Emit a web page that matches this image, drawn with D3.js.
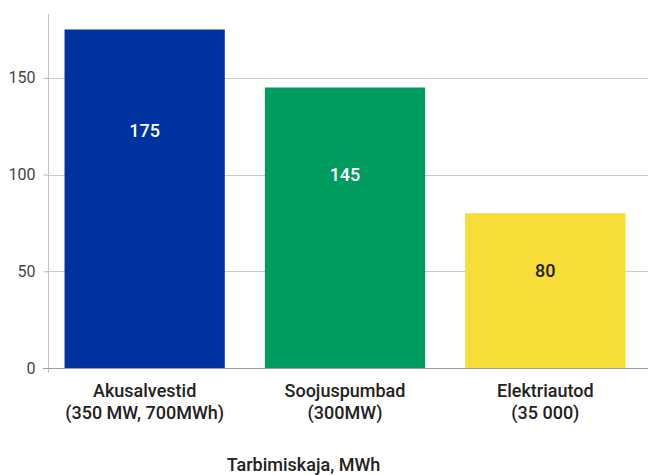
<!DOCTYPE html>
<html>
<head>
<meta charset="utf-8">
<script src="https://cdn.jsdelivr.net/npm/d3@7"></script>
<style>
  html, body { margin: 0; padding: 0; background: #fff; }
  svg { display: block; font-family: Roboto, "Noto Sans", sans-serif; }
</style>
</head>
<body>
<svg id="chart" width="648" height="475"></svg>
<script>
// Consumption capacity by flexibility source
const categories = ["Akusalvestid", "Soojuspumbad", "Elektriautod"];
const subLabels = ["(350 MW, 700MWh)", "(300MW)", "(35 000)"];
const values = [175, 145, 80];
const colors = ["#0033a0", "#009b5f", "#f7dd37"];
const labelColors = ["#ffffff", "#ffffff", "#222222"];
const yTicks = [0, 50, 100, 150];
const axisTitle = "Tarbimiskaja, MWh";

const svg = d3.select("#chart");
const W = 648;
const axisX = 48;

const y = d3.scaleLinear().domain([0, 183]).range([368, 14]);
const x = d3.scaleBand().domain(categories).range([44.5, 645.5]).paddingInner(0.2).paddingOuter(0.1);

// horizontal gridlines
svg.append("g").selectAll("line").data(yTicks.filter(t => t > 0)).join("line")
  .attr("x1", axisX).attr("x2", W)
  .attr("y1", d => Math.round(y(d)) + 0.5).attr("y2", d => Math.round(y(d)) + 0.5)
  .attr("stroke", "#cccccc").attr("stroke-width", 1);

// y axis
const yAxis = d3.axisLeft(y).tickValues(yTicks).tickSize(5).tickPadding(8);
const gy = svg.append("g").attr("transform", `translate(${axisX + 0.5},0)`).call(yAxis);
gy.select(".domain").remove();
gy.selectAll(".tick line").attr("stroke", "#bbbbbb");
gy.selectAll(".tick text").attr("fill", "#444").attr("font-size", 16).attr("font-family", "Roboto, sans-serif");
svg.append("line")
  .attr("x1", axisX + 0.5).attr("x2", axisX + 0.5)
  .attr("y1", y.range()[1]).attr("y2", y(0) + 5)
  .attr("stroke", "#c4c4c4");

// bars
svg.append("g").selectAll("rect").data(values).join("rect")
  .attr("x", (d, i) => x(categories[i]))
  .attr("width", x.bandwidth())
  .attr("y", d => y(d))
  .attr("height", d => y(0) - y(d))
  .attr("fill", (d, i) => colors[i]);

// baseline
svg.append("line")
  .attr("x1", axisX - 5).attr("x2", W)
  .attr("y1", Math.round(y(0)) + 0.5).attr("y2", Math.round(y(0)) + 0.5)
  .attr("stroke", "#9e9e9e");

// value labels inside bars
svg.append("g").selectAll("text").data(values).join("text")
  .attr("x", (d, i) => x(categories[i]) + x.bandwidth() / 2)
  .attr("y", d => y(0.762 * d - 10.8))
  .attr("dy", "0.35em")
  .attr("text-anchor", "middle")
  .attr("font-size", 18).attr("font-weight", 500)
  .attr("fill", (d, i) => labelColors[i])
  .text(d => d);

// category labels
const cat = svg.append("g").selectAll("text").data(categories).join("text")
  .attr("text-anchor", "middle")
  .attr("font-size", 18).attr("font-weight", 500).attr("fill", "#222");
cat.append("tspan")
  .attr("x", d => x(d) + x.bandwidth() / 2).attr("y", 397)
  .text(d => d);
cat.append("tspan")
  .attr("x", d => x(d) + x.bandwidth() / 2).attr("y", 419)
  .text((d, i) => subLabels[i]);

// axis title
svg.append("text")
  .attr("x", 303.5).attr("y", 471)
  .attr("text-anchor", "middle")
  .attr("font-size", 18).attr("font-weight", 500).attr("fill", "#222")
  .text(axisTitle);
</script>
</body>
</html>
